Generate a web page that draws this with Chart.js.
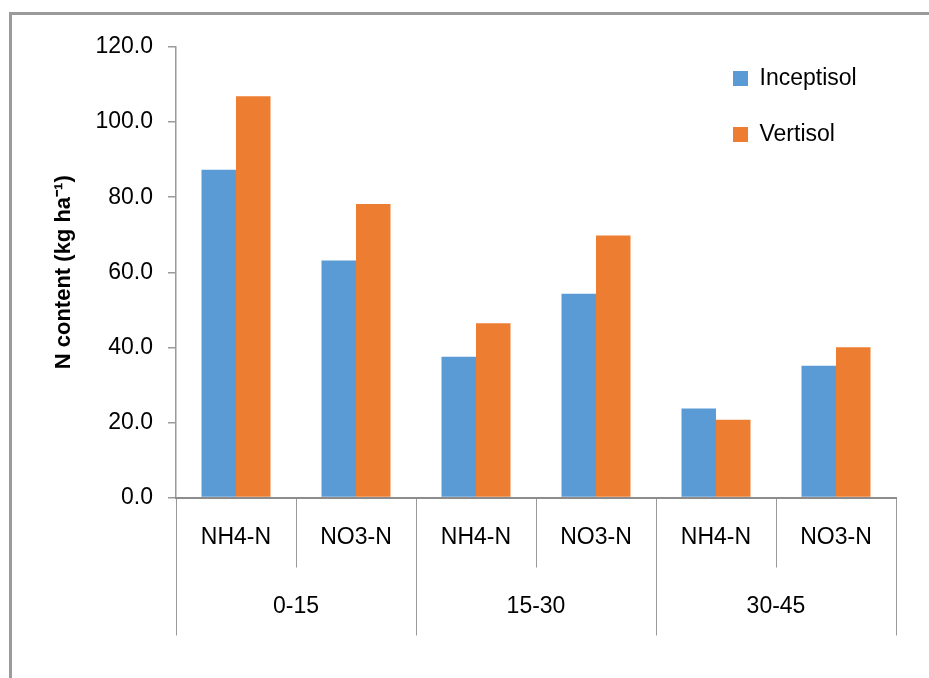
<!DOCTYPE html>
<html><head><meta charset="utf-8">
<script src="https://cdn.jsdelivr.net/npm/chart.js@4.4.1/dist/chart.umd.min.js"></script>
<style>html,body{margin:0;padding:0;background:#fff;} #wrap{width:929px;height:678px;position:relative;}</style>
</head><body><div id="wrap"><canvas id="c"></canvas></div>
<script>
// ---- data ----
const depthGroups = ['0-15', '15-30', '30-45'];
const formLabels = ['NH4-N', 'NO3-N', 'NH4-N', 'NO3-N', 'NH4-N', 'NO3-N'];
const seriesNames = ['Inceptisol', 'Vertisol'];
const inceptisol = [87.3, 63.1, 37.5, 54.3, 23.7, 35.1];
const vertisol = [106.9, 78.2, 46.4, 69.8, 20.7, 40.0];
const yMin = 0, yMax = 120, yStep = 20;
const yTitle = 'N content (kg ha\u207B\u00B9)';

const FONT = "'Liberation Sans', Arial, sans-serif";
const GRID = '#9a9a9a';

const framePlugin = {
  id: 'frame',
  beforeDraw(chart) {
    const ctx = chart.ctx;
    ctx.save();
    ctx.fillStyle = '#fff';
    ctx.fillRect(0, 0, chart.width, chart.height);
    ctx.strokeStyle = '#9b9b9b';
    ctx.lineWidth = 3;
    ctx.strokeRect(10.5, 13.5, 2000, 2000);
    ctx.restore();
  }
};

const legendPlacer = {
  id: 'legendPlacer',
  afterInit(chart) {
    const lg = chart.legend;
    const orig = lg.fit.bind(lg);
    lg.fit = function () { orig(); this.width = 0; };
  },
  afterLayout(chart) {
    const lg = chart.legend;
    lg.left = 700; lg.top = 34; lg.width = 200; lg.height = 160;
    lg.right = lg.left + lg.width; lg.bottom = lg.top + lg.height;
  }
};

new Chart(document.getElementById('c'), {
  type: 'bar',
  data: {
    labels: formLabels,
    datasets: [
      { label: seriesNames[0], data: inceptisol, backgroundColor: '#5B9BD5', borderWidth: 0 },
      { label: seriesNames[1], data: vertisol, backgroundColor: '#ED7D31', borderWidth: 0 }
    ]
  },
  options: {
    responsive: true,
    maintainAspectRatio: false,
    animation: false,
    devicePixelRatio: 1,
    datasets: { bar: { categoryPercentage: 0.575, barPercentage: 1.0 } },
    layout: { padding: { left: 48, top: 47, right: 33, bottom: 30.5 } },
    plugins: {
      tooltip: { enabled: false },
      legend: {
        display: true,
        position: 'right',
        align: 'start',
        labels: {
          font: { family: FONT, size: 23 },
          color: '#000',
          boxWidth: 15,
          boxHeight: 15,
          padding: 33
        }
      }
    },
    scales: {
      y: {
        min: yMin, max: yMax,
        afterFit(s) { s.width = 128; },
        ticks: {
          stepSize: yStep,
          padding: 15,
          color: '#000',
          font: { family: FONT, size: 23 },
          callback: (v) => Number(v).toFixed(1)
        },
        grid: { display: true, drawOnChartArea: false, drawTicks: true, tickLength: 8, color: GRID, lineWidth: 1.5 },
        border: { display: true, color: GRID, width: 1.5 },
        title: {
          display: true, text: yTitle, color: '#000',
          font: { family: FONT, size: 22, weight: 'bold' },
          padding: { top: 3, bottom: 22 }
        }
      },
      x: {
        type: 'category',
        position: 'bottom',
        afterFit(s) { s.height = 50; },
        ticks: { padding: -43.8, color: '#000', font: { family: FONT, size: 23 }, maxRotation: 0, autoSkip: false },
        grid: { display: true, offset: true, drawOnChartArea: false, drawTicks: true, tickLength: 70, color: GRID, lineWidth: 1 },
        border: { display: true, color: '#8c8c8c', width: 2 }
      },
      x2: {
        type: 'category',
        position: 'bottom',
        labels: depthGroups,
        offset: true,
        afterFit(s) { s.height = 100; },
        ticks: { padding: -42.6, color: '#000', font: { family: FONT, size: 23 }, maxRotation: 0, autoSkip: false },
        grid: { display: true, offset: true, drawOnChartArea: false, drawTicks: true, tickLength: 88, color: GRID, lineWidth: 1 },
        border: { display: false }
      }
    }
  },
  plugins: [framePlugin, legendPlacer]
});
</script>
</body></html>
